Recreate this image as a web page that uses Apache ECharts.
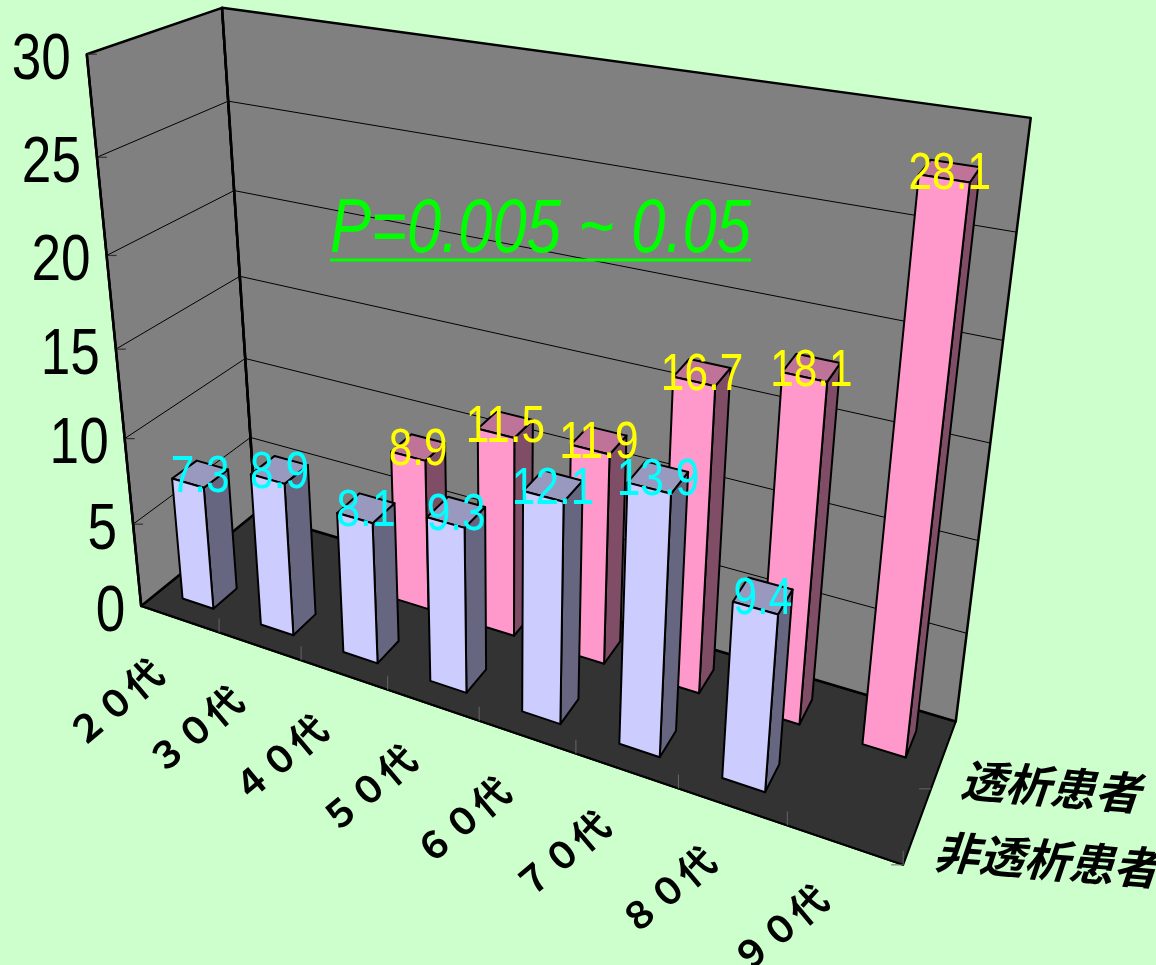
<!DOCTYPE html>
<html><head><meta charset="utf-8">
<script src="https://cdn.jsdelivr.net/npm/echarts@6/dist/echarts.min.js"></script>
<style>html,body{margin:0;padding:0;background:#CCFFCC;}#chart{width:1156px;height:965px;}</style>
</head><body><div id="chart"></div>
<script>
// ---------------- data ----------------
const CATEGORIES = ['２０代', '３０代', '４０代', '５０代', '６０代', '７０代', '８０代', '９０代'];
const SERIES_NAMES = ['非透析患者', '透析患者'];
const NON_DIALYSIS = [7.3, 8.9, 8.1, 9.3, 12.1, 13.9, 9.4, null];
const DIALYSIS = [null, null, 8.9, 11.5, 11.9, 16.7, 18.1, 28.1];
const Y_TICKS = [0, 5, 10, 15, 20, 25, 30];
const ANNOTATION = 'P=0.005 ~ 0.05';

// ---------------- view (layout) ----------------
const NX = CATEGORIES.length, NZ = SERIES_NAMES.length, YMAX = Y_TICKS[Y_TICKS.length - 1];
// calibration of the perspective box: [catUnits, value, rowDepth, screenX, screenY]
const VIEW_CALIB = [
  [0,0,0,140,606],[0,30,0,87,55],[0,25,0,97,158],[0,20,0,107,255],[0,15,0,116,348],[0,10,0,125,437],[0,5,0,133,524],
  [0,0,2,255.5,512],[0,30,2,222,9],[0,25,2,226,99],[0,20,2,235,191],[0,10,2,246,360],[0,5,2,251,439],
  [8,0,2,959,720],[8,30,2,1031,117],[8,25,2,1016,233],[8,20,2,1004,340],
  [8,0,0,905,865],[1,0,0,219,633],[2,0,0,301,660],[3,0,0,387,690],[4,0,0,479,721],[5,0,0,577,754],[6,0,0,681,789],[8,0,1,923,790]
];
function solveCamera(pts) {
  const rows = [], rhs = [];
  pts.forEach(([x, y, z, u, v]) => {
    const X = [x / 8, y / 30, z / 2], U = u / 1000, V = v / 1000;
    rows.push([X[0], X[1], X[2], 1, 0, 0, 0, 0, -U * X[0], -U * X[1], -U * X[2]]); rhs.push(U);
    rows.push([0, 0, 0, 0, X[0], X[1], X[2], 1, -V * X[0], -V * X[1], -V * X[2]]); rhs.push(V);
  });
  const n = 11, M = [];
  for (let i = 0; i < n; i++) {
    M.push(new Array(n + 1).fill(0));
    for (let r = 0; r < rows.length; r++) {
      for (let j = 0; j < n; j++) M[i][j] += rows[r][i] * rows[r][j];
      M[i][n] += rows[r][i] * rhs[r];
    }
  }
  for (let c = 0; c < n; c++) {
    let p = c;
    for (let r = c + 1; r < n; r++) if (Math.abs(M[r][c]) > Math.abs(M[p][c])) p = r;
    const t = M[c]; M[c] = M[p]; M[p] = t;
    for (let r = 0; r < n; r++) {
      if (r === c) continue;
      const f = M[r][c] / M[c][c];
      for (let k = c; k <= n; k++) M[r][k] -= f * M[c][k];
    }
  }
  return M.map((row, i) => row[n] / row[i]);
}
const CAM = solveCamera(VIEW_CALIB);
function proj(x, y, z) {
  const a = x / 8, b = y / 30, c = z / 2;
  const w = CAM[8] * a + CAM[9] * b + CAM[10] * c + 1;
  return [(CAM[0] * a + CAM[1] * b + CAM[2] * c + CAM[3]) / w * 1000,
          (CAM[4] * a + CAM[5] * b + CAM[6] * c + CAM[7]) / w * 1000];
}
// screen point of the hidden cartesian grid -> world units
function toWorld(params, api, cat, val) {
  const cs = params.coordSys;
  const p = api.coord([cat, val]);
  return [(p[0] - cs.x) / cs.width * NX, (cs.y + cs.height - p[1]) / cs.height * YMAX];
}

const LATIN = '"Liberation Sans", Arial, sans-serif';
const CJK = '"Noto Sans CJK JP", sans-serif';

function renderFrame(params, api) {
  const ch = [];
  const poly = (pts, fill, lw) => ({ type: 'polygon', shape: { points: pts.map(p => proj(p[0], p[1], p[2])) },
    style: { fill: fill, stroke: '#000', lineWidth: lw, lineJoin: 'round' } });
  const line = (a, b, color, lw) => ({ type: 'line', shape: { x1: a[0], y1: a[1], x2: b[0], y2: b[1] },
    style: { stroke: color, lineWidth: lw } });
  const top = toWorld(params, api, 0, YMAX)[1];
  ch.push(poly([[0,0,0],[0,0,NZ],[NX,0,NZ],[NX,0,0]], '#333333', 2));
  ch.push(poly([[0,0,0],[0,top,0],[0,top,NZ],[0,0,NZ]], '#808080', 2.5));
  ch.push(poly([[0,0,NZ],[0,top,NZ],[NX,top,NZ],[NX,0,NZ]], '#808080', 2.5));
  Y_TICKS.forEach(t => {
    const wy = toWorld(params, api, 0, t)[1];
    const f = proj(0, wy, 0);
    if (t > 0 && t < YMAX) {
      ch.push(line(f, proj(0, wy, NZ), '#000', 1));
      ch.push(line(proj(0, wy, NZ), proj(NX, wy, NZ), '#000', 1));
    }
    ch.push(line(f, [f[0] + 10, f[1]], '#333', 1.2));
    ch.push({ type: 'text', x: f[0] - 16, y: f[1] + 7, scaleX: 0.83,
      style: { text: String(t), fill: '#000', fontSize: 64, fontFamily: LATIN, align: 'right', verticalAlign: 'middle' } });
  });
  // thick outer edges
  ch.push(line(proj(0,0,0), proj(0,top,0), '#000', 2.5));
  ch.push(line(proj(0,0,NZ), proj(0,top,NZ), '#000', 2.5));
  ch.push(line(proj(0,0,0), proj(NX,0,0), '#000', 2));
  // category ticks on floor front edge
  for (let i = 1; i <= NX; i++) {
    const p = proj(i, 0, 0);
    ch.push(line(p, [p[0], p[1] - 14], '#666', 1));
  }
  for (let r = 0; r <= NZ - 1; r++) {
    const p = proj(NX, 0, r);
    ch.push(line(p, [p[0] - 12, p[1]], '#666', 1));
  }
  return { type: 'group', children: ch };
}

function renderCatLabel(params, api) {
  const w = toWorld(params, api, api.value(0), 0);
  const p = proj(w[0], 0, 0);
  return { type: 'text', x: p[0] - 22, y: p[1] + 48, rotation: 40 * Math.PI / 180,
    style: { text: CATEGORIES[api.value(0)], fill: '#000', fontSize: 37, fontWeight: 'bold', fontFamily: CJK,
      align: 'right', verticalAlign: 'middle' } };
}

function renderSeriesLabel(params, api) {
  const r = api.value(0);
  const p = proj(NX, 0, r + 0.5);
  return { type: 'text', x: p[0] + 17, y: p[1] + 25, rotation: -0.08,
    style: { text: SERIES_NAMES[r], fill: '#000', fontSize: 45, fontWeight: 'bold', fontStyle: 'italic', fontFamily: CJK,
      align: 'left', verticalAlign: 'middle' } };
}

const HALF_W = 0.2, HALF_D = 0.2;
function barRenderer(row, colors) {
  return function (params, api) {
    const i = api.value(0), v = api.value(1);
    const w = toWorld(params, api, i, v);
    const x0 = w[0] - HALF_W, x1 = w[0] + HALF_W, h = w[1];
    const zc = row + 0.5, z0 = zc - HALF_D, z1 = zc + HALF_D;
    const P = (a, b, c) => proj(a, b, c);
    const st = fill => ({ fill: fill, stroke: '#000', lineWidth: 2, lineJoin: 'round' });
    return { type: 'group', children: [
      { type: 'polygon', z2: i * 10 + 1, shape: { points: [P(x1,0,z0), P(x1,0,z1), P(x1,h,z1), P(x1,h,z0)] }, style: st(colors[1]) },
      { type: 'polygon', z2: i * 10 + 2, shape: { points: [P(x0,h,z0), P(x1,h,z0), P(x1,h,z1), P(x0,h,z1)] }, style: st(colors[2]) },
      { type: 'polygon', z2: i * 10 + 3, shape: { points: [P(x0,0,z0), P(x1,0,z0), P(x1,h,z0), P(x0,h,z0)] }, style: st(colors[0]) }
    ] };
  };
}
function labelRenderer(row, color) {
  return function (params, api) {
    const i = api.value(0), v = api.value(1);
    const w = toWorld(params, api, i, v);
    const p = proj(w[0], w[1], row + 0.5);
    return { type: 'text', x: p[0], y: p[1] + 4, scaleX: 0.83,
      style: { text: String(v), fill: color, fontSize: 51, fontFamily: LATIN, align: 'center', verticalAlign: 'middle' } };
  };
}
const rowData = vals => vals.map((v, i) => [i, v]).filter(d => d[1] != null);

// annotation underline width
const mctx = document.createElement('canvas').getContext('2d');
mctx.font = 'italic 76px "Liberation Sans"';
const ANN_SCALE = 0.81;
const annW = mctx.measureText(ANNOTATION).width * ANN_SCALE;

const chart = echarts.init(document.getElementById('chart'), null, { renderer: 'canvas' });
chart.setOption({
  backgroundColor: '#CCFFCC',
  animation: false,
  grid: { left: 0, right: 0, top: 0, bottom: 0, show: false },
  xAxis: { type: 'category', data: CATEGORIES, show: false },
  yAxis: { type: 'value', min: 0, max: YMAX, interval: 5, show: false },
  graphic: [
    { type: 'text', x: 330, y: 231, scaleX: ANN_SCALE, z: 20,
      style: { text: ANNOTATION, fill: '#00FF00', fontSize: 76, fontStyle: 'italic', fontFamily: LATIN, align: 'left', verticalAlign: 'middle' } },
    { type: 'rect', x: 330, y: 258.5, z: 20, shape: { width: annW, height: 3 }, style: { fill: '#00FF00' } }
  ],
  series: [
    { type: 'custom', name: 'frame', z: 1, silent: true, renderItem: renderFrame, data: [[0, 0]] },
    { type: 'custom', name: 'catLabels', z: 1, silent: true, renderItem: renderCatLabel, data: CATEGORIES.map((c, i) => [i, 0]) },
    { type: 'custom', name: 'seriesLabels', z: 1, silent: true, renderItem: renderSeriesLabel, data: SERIES_NAMES.map((s, r) => [r, 0]) },
    { type: 'custom', name: SERIES_NAMES[1], z: 2, renderItem: barRenderer(1, ['#FF99CC', '#804D66', '#BF7399']), data: rowData(DIALYSIS) },
    { type: 'custom', name: SERIES_NAMES[0], z: 3, renderItem: barRenderer(0, ['#CCCCFF', '#666680', '#9999BF']), data: rowData(NON_DIALYSIS) },
    { type: 'custom', name: SERIES_NAMES[1] + ' labels', z: 5, silent: true, renderItem: labelRenderer(1, '#FFFF00'), data: rowData(DIALYSIS) },
    { type: 'custom', name: SERIES_NAMES[0] + ' labels', z: 5, silent: true, renderItem: labelRenderer(0, '#00FFFF'), data: rowData(NON_DIALYSIS) }
  ]
});
</script></body></html>
